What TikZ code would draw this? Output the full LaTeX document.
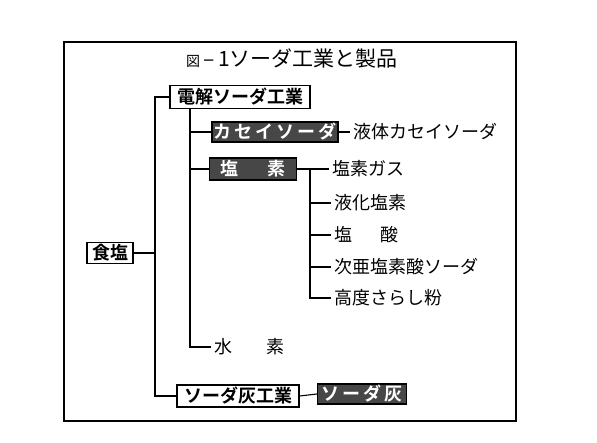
\documentclass[tikz,border=0pt]{standalone}
\usepackage{fontspec}
\setmainfont{Noto Sans CJK JP}[BoldFont={Noto Sans CJK JP Bold}]

\begin{document}
\begin{tikzpicture}[x=1pt,y=-1pt,line width=1.1pt,
    box/.style={draw,line width=1.2pt,inner sep=1pt,font=\bfseries\fontsize{18}{18}\selectfont},
    darkbox/.style={draw,fill=black!72,text=white,inner sep=1pt,font=\bfseries\fontsize{18}{18}\selectfont},
    item/.style={anchor=west,inner sep=2.5pt,font=\fontsize{18}{18}\selectfont}]
    \useasboundingbox (0,0) rectangle (597,443);
    \draw[line width=1.3pt] (64,42) rectangle (516,421);

    \node[font=\fontsize{21}{21}\selectfont] (title) at (292,58) {{\fontsize{14}{14}\selectfont 図}\,–\,1ソーダ工業と製品};

    % boxes
    \node[box,minimum width=46,minimum height=21] (shokuen) at (110,253) {食塩};
    \node[box,minimum width=140,minimum height=23] (denkai) at (240,97) {電解ソーダ工業};
    \node[box,minimum width=122,minimum height=22] (haiko) at (238,396) {ソーダ灰工業};
    \node[darkbox,minimum width=126,minimum height=20] (kasei) at (275,132) {カ\,セ\,イ\,ソ\,ー\,ダ};
    \node[darkbox,minimum width=87,minimum height=22] (enso) at (253,169) {塩\hspace{1.6em}素};
    \node[darkbox,minimum width=89,minimum height=20] (hai) at (362,394) {ソ\,ー\,ダ\,灰};

    % products
    \node[item] (ekitai) at (350,132) {液体カセイソーダ};
    \node[item] (gas) at (329,169) {塩素ガス};
    \node[item] (ekika) at (331,203) {液化塩素};
    \node[item] (ensan) at (331,235) {塩\hspace{1.6em}酸};
    \node[item] (jia) at (331,267) {次亜塩素酸ソーダ};
    \node[item] (sarashi) at (331,298) {高度さらし粉};
    \node[item] (suiso) at (211,347) {水\hspace{1.9em}素};

    % trunks
    \coordinate (t1) at (155,0);
    \coordinate (t2) at (190,0);
    \coordinate (t3) at (310,0);

    \draw (denkai.west) -- (denkai.west -| t1) |- (haiko.west);
    \draw (shokuen.east) -- (shokuen.east -| t1);
    \draw (denkai.south -| t2) |- (suiso.west);
    \draw (kasei.west) -- (kasei.west -| t2);
    \draw (enso.west) -- (enso.west -| t2);
    \draw (kasei.east) -- (ekitai.west);
    \draw (enso.east) -- (gas.west);
    \draw (enso.east -| t3) |- (sarashi.west);
    \foreach \n in {ekika,ensan,jia}
        \draw (\n.west) -- (\n.west -| t3);
    \draw (haiko.east) -- (hai.west);
\end{tikzpicture}
\end{document}
